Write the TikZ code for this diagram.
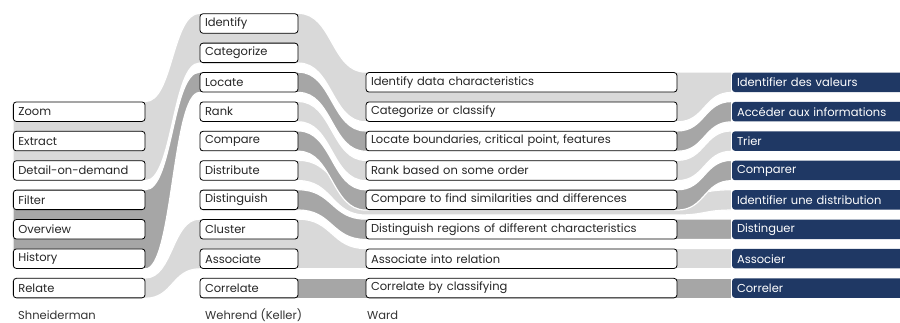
\documentclass[tikz,border=0pt]{standalone}
\usepackage{fontspec}
\setmainfont{Poppins}
\usetikzlibrary{backgrounds}
\definecolor{lgray}{RGB}{217,217,217}
\definecolor{dgray}{RGB}{166,166,166}
\definecolor{navy}{RGB}{31,56,100}

\begin{document}
\begin{tikzpicture}
		[
			x=1pt, y=-1pt,
			font=\fontsize{11.5}{13}\selectfont,
			box/.style = {draw=black, line width=0.8pt, rounded corners=3pt, fill=white, minimum height=19.5pt, inner xsep=5pt, inner ysep=0pt, align=left, text=black!85},
			sbox/.style = {box, text width=121.7pt},
			kbox/.style = {box, text width=88pt},
			wbox/.style = {box, text width=301pt},
			fbox/.style = {box, draw=none, fill=navy, text=white, text width=166pt},
			lband/.style = {fill=lgray, draw=white, line width=1.2pt},
			dband/.style = {fill=dgray, draw=white, line width=1.2pt},
			title/.style = {anchor=base west, inner sep=0pt, text=black!80},
		]

		\useasboundingbox (0,0) rectangle (900,323);

		% Shneiderman
		\node[sbox] (zoom) 		at ( 79.2, 111.7 ) {Zoom};
		\node[sbox] (extract) 	at ( 79.2, 141.1 ) {Extract};
		\node[sbox] (detail) 	at ( 79.2, 170.5 ) {Detail-on-demand};
		\node[sbox] (filter) 	at ( 79.2, 199.9 ) {Filter};
		\node[sbox] (overview) 	at ( 79.2, 229.3 ) {Overview};
		\node[sbox] (history) 	at ( 79.2, 258.7 ) {History};
		\node[sbox] (relate) 	at ( 79.2, 288.1 ) {Relate};

		% Wehrend (Keller)
		\node[kbox] (identify) 		at ( 249, 23.5 ) {Identify};
		\node[kbox] (categorize) 	at ( 249, 52.9 ) {Categorize};
		\node[kbox] (locate) 		at ( 249, 82.3 ) {Locate};
		\node[kbox] (rank) 			at ( 249, 111.7 ) {Rank};
		\node[kbox] (compare) 		at ( 249, 141.1 ) {Compare};
		\node[kbox] (distribute) 	at ( 249, 170.5 ) {Distribute};
		\node[kbox] (distinguish) 	at ( 249, 199.9 ) {Distinguish};
		\node[kbox] (cluster) 		at ( 249, 229.3 ) {Cluster};
		\node[kbox] (associate) 	at ( 249, 258.7 ) {Associate};
		\node[kbox] (correlate) 	at ( 249, 288.1 ) {Correlate};

		% Ward
		\node[wbox] (datachar) 		at ( 521.5, 82.3 ) {Identify data characteristics};
		\node[wbox] (classify) 		at ( 521.5, 111.7 ) {Categorize or classify};
		\node[wbox] (boundaries) 	at ( 521.5, 141.1 ) {Locate boundaries, critical point, features};
		\node[wbox] (order) 		at ( 521.5, 170.5 ) {Rank based on some order};
		\node[wbox] (similar) 		at ( 521.5, 199.9 ) {Compare to find similarities and differences};
		\node[wbox] (regions) 		at ( 521.5, 229.3 ) {Distinguish regions of different characteristics};
		\node[wbox] (relation) 		at ( 521.5, 258.7 ) {Associate into relation};
		\node[wbox] (classifying) 	at ( 521.5, 288.1 ) {Correlate by classifying};

		% french tasks
		\node[fbox] (valeurs) 		at ( 820, 82.3 ) {Identifier des valeurs};
		\node[fbox] (acceder) 		at ( 820, 111.7 ) {Accéder aux informations};
		\node[fbox] (trier) 		at ( 820, 141.1 ) {Trier};
		\node[fbox] (comparer) 		at ( 820, 170.5 ) {Comparer};
		\node[fbox] (distribution) 	at ( 820, 199.9 ) {Identifier une distribution};
		\node[fbox] (distinguer) 	at ( 820, 229.3 ) {Distinguer};
		\node[fbox] (associer) 		at ( 820, 258.7 ) {Associer};
		\node[fbox] (correler) 		at ( 820, 288.1 ) {Correler};

		% column titles
		\node[title] (tshn) 	at ( 18, 319.5 ) {Shneiderman};
		\node[title] (tweh) 	at ( 205, 319.5 ) {Wehrend (Keller)};
		\node[title] (tward) 	at ( 367, 319.5 ) {Ward};

		% bands behind the boxes
		\begin{scope}[on background layer]
		% zoom/extract/detail -> identify
		\draw[lband] (zoom.north west) -- (zoom.north east)
			.. controls +(27.5,0) and +(-27.5,0) .. (identify.north west) -- (identify.north east)
			.. controls +(34,0) and +(-34,0) .. (datachar.north west) -- (datachar.north east)
			.. controls +(27.5,0) and +(-27.5,0) .. (valeurs.north west) -- (valeurs.south west)
			.. controls +(-27.5,0) and +(27.5,0) .. (classify.south east) -- (classify.south west)
			.. controls +(-34,0) and +(34,0) .. (categorize.south east) -- (categorize.south west)
			.. controls +(-27.5,0) and +(27.5,0) .. (detail.south east) -- (detail.south west) -- cycle;
		% filter/overview/history -> locate
		\draw[dband] (filter.north west) -- (filter.north east)
			.. controls +(27.5,0) and +(-27.5,0) .. (locate.north west) -- (locate.north east)
			.. controls +(34,0) and +(-34,0) .. (boundaries.north west) -- (boundaries.north east)
			.. controls +(27.5,0) and +(-27.5,0) .. (acceder.north west) -- (acceder.south west)
			.. controls +(-27.5,0) and +(27.5,0) .. (boundaries.south east) -- (boundaries.south west)
			.. controls +(-34,0) and +(34,0) .. (locate.south east) -- (locate.south west)
			.. controls +(-27.5,0) and +(27.5,0) .. (history.south east) -- (history.south west) -- cycle;
		% relate -> cluster/associate
		\draw[lband] (relate.north west) -- (relate.north east)
			.. controls +(27.5,0) and +(-27.5,0) .. (cluster.north west) -- (cluster.north east)
			.. controls +(34,0) and +(-34,0) .. (relation.north west) -- (associer.north west)
			-- (associer.south west) -- (relation.south west)
			-- (associate.south east) -- (associate.south west)
			.. controls +(-27.5,0) and +(27.5,0) .. (relate.south east) -- (relate.south west) -- cycle;
		% distribute, partly under the compare band
		\draw[lband] (distribute.north west) -- (distribute.north east)
			.. controls +(34,0) and +(-34,0) .. ([yshift=-5pt]similar.north west) -- ([yshift=-5pt]similar.north east)
			.. controls +(27.5,0) and +(-27.5,0) .. (distribution.north west) -- (distribution.south west)
			.. controls +(-27.5,0) and +(27.5,0) .. ([yshift=-5pt]similar.south east) -- ([yshift=-5pt]similar.south west)
			.. controls +(-34,0) and +(34,0) .. (distribute.south east) -- (distribute.south west) -- cycle;
		% one row each
		\foreach \from/\mid/\to/\band in {rank/order/trier/lband,compare/similar/comparer/dband,distinguish/regions/distinguer/dband,correlate/classifying/correler/dband}
		\draw[\band] (\from.north west) -- (\from.north east)
			.. controls +(34,0) and +(-34,0) .. (\mid.north west) -- (\mid.north east)
			.. controls +(27.5,0) and +(-27.5,0) .. (\to.north west) -- (\to.south west)
			.. controls +(-27.5,0) and +(27.5,0) .. (\mid.south east) -- (\mid.south west)
			.. controls +(-34,0) and +(34,0) .. (\from.south east) -- (\from.south west) -- cycle;
		\end{scope}

		\end{tikzpicture}
\end{document}
